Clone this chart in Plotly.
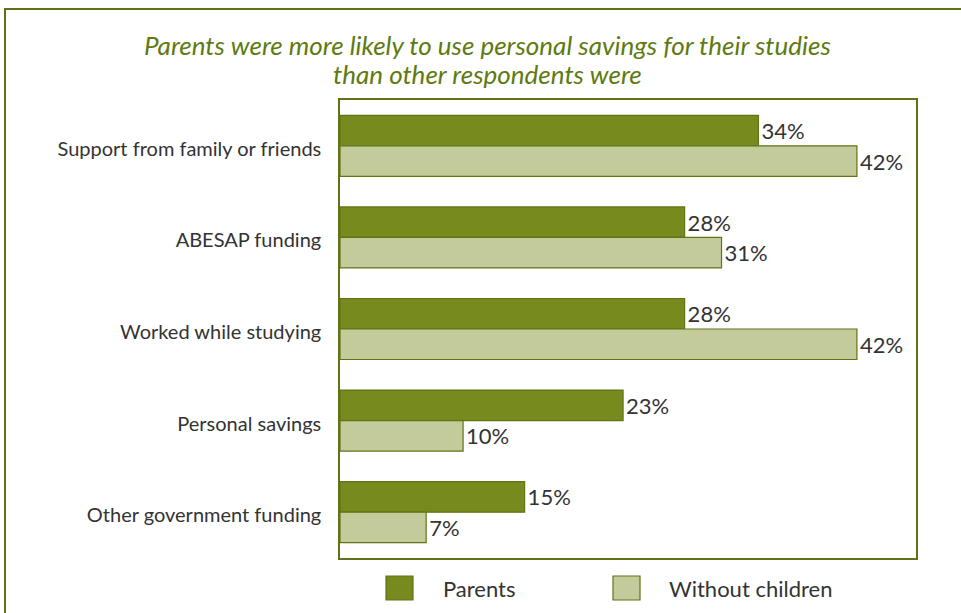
import plotly.graph_objects as go

categories = [
    "Support from family or friends",
    "ABESAP funding",
    "Worked while studying",
    "Personal savings",
    "Other government funding",
]
parents = [34, 28, 28, 23, 15]
without_children = [42, 31, 42, 10, 7]
series_names = ["Parents", "Without children"]
title_lines = [
    "Parents were more likely to use personal savings for their studies",
    "than other respondents were",
]

DARK = "#778a1e"
LIGHT = "#c3cb9a"
EDGE = "#5f7417"
TEXT = "#333333"
FONT = "Lato"

fig = go.Figure()
for name, vals, col in [(series_names[0], parents, DARK),
                        (series_names[1], without_children, LIGHT)]:
    fig.add_trace(go.Bar(
        y=categories, x=vals, name=name, orientation="h",
        marker=dict(color=col, line=dict(color=EDGE, width=1.2)),
        text=[f"{v}%" for v in vals], textposition="outside",
        textfont=dict(family=FONT, size=22, color=TEXT),
        cliponaxis=False, showlegend=False,
    ))

fig.update_layout(
    width=961, height=613,
    margin=dict(l=340, r=45, t=100, b=55),
    paper_bgcolor="white", plot_bgcolor="white",
    barmode="group", bargap=0.334, bargroupgap=0,
    font=dict(family=FONT, color=TEXT),
    xaxis=dict(range=[0, 46.8], showticklabels=False, showgrid=False,
               zeroline=False, showline=True, linecolor=EDGE, linewidth=1.5,
               mirror=True, ticks=""),
    yaxis=dict(autorange="reversed", showgrid=False, showline=True,
               linecolor=EDGE, linewidth=1.5, mirror=True, ticks="",
               tickfont=dict(family=FONT, size=20, color=TEXT),
               ticklabelstandoff=13, ticklabelshift=-3),
)

# title, one annotation per line
for line, ypix in zip(title_lines, [45, 74]):
    fig.add_annotation(
        xref="paper", yref="paper", x=(487 - 340) / 576, y=(558 - ypix) / 458,
        text=line, showarrow=False, xanchor="center", yanchor="middle",
        font=dict(family=FONT, size=26, color="#5e7a10", style="italic"),
    )

# outer frame
fig.add_shape(type="rect", xref="paper", yref="paper",
              x0=(5 - 340) / 576, x1=(980 - 340) / 576,
              y0=(558 - 630) / 458, y1=(558 - 9) / 458,
              line=dict(color="#5b7316", width=2), layer="below")

# legend
legend_items = [(series_names[0], DARK, 386, 441), (series_names[1], LIGHT, 613, 667)]
for name, col, sx, tx in legend_items:
    fig.add_shape(type="rect", xref="paper", yref="paper",
                  x0=(sx - 340) / 576, x1=(sx + 27 - 340) / 576,
                  y0=(558 - 600) / 458, y1=(558 - 576) / 458,
                  fillcolor=col, line=dict(color=EDGE, width=1.2))
    fig.add_annotation(xref="paper", yref="paper",
                       x=(tx - 340) / 576, y=(558 - 588) / 458,
                       text=name, showarrow=False, xanchor="left", yanchor="middle",
                       font=dict(family=FONT, size=22, color=TEXT))

fig.write_html("out.html")
